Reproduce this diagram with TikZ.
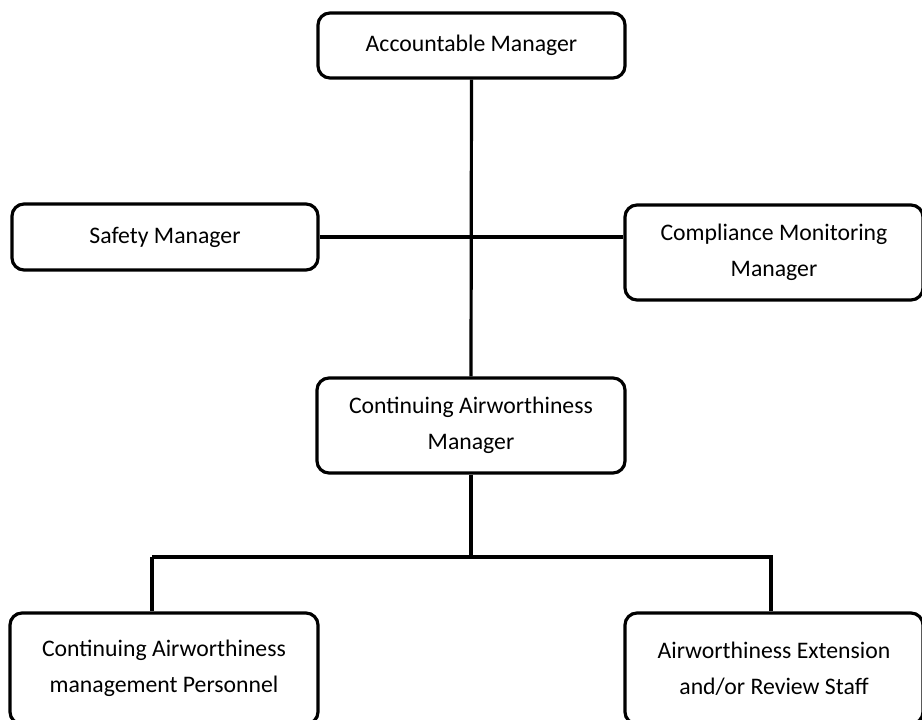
\documentclass[tikz,border=0pt]{standalone}
\usepackage{fontspec}
\setmainfont{Carlito}
\usepackage{tikz}
\usetikzlibrary{calc, positioning}

\tikzset{
    box/.style={draw, line width=2.4pt, rounded corners=9pt, align=center,
        inner sep=0pt, font=\fontsize{17.8}{27}\selectfont},
    link/.style={line width=2.4pt}
}

\begin{document}
\begin{tikzpicture}[x=0.75pt, y=-0.75pt]
        \useasboundingbox (0,0) rectangle (922,720);
        \clip (0,0) rectangle (922,720);
        \node[box, minimum width=230.25pt, minimum height=48.75pt] (acc) at (471.5,45.5) {Accountable Manager};
        \node[box, minimum width=229.5pt, minimum height=49.5pt] (safety) at (165,237) {Safety Manager};
        \node[box, minimum width=223.5pt, minimum height=71.25pt] (comp) at (774,252.5) {Compliance Monitoring\\Manager};
        \node[box, minimum width=231pt, minimum height=71.25pt] (cam) at (471,425.5) {Continuing Airworthiness\\Manager};
        \node[box, minimum width=231pt, minimum height=83.25pt] (camp) at (164,668.5) {Continuing Airworthiness\\management Personnel};
        \node[box, minimum width=223.5pt, minimum height=83.25pt] (aes) at (774,668.5) {Airworthiness Extension\\and/or Review Staff};
        \coordinate (busl) at (152,557);
        \coordinate (busr) at (771,557);
        \draw[link] (acc.south) -- (cam.north);
        \draw[link] (safety.east) -- (safety.east -| comp.west);
        \draw[link] (cam.south) -- (cam.south |- busl);
        \draw[link] (busl) -- ($(busr)+(2,0)$);
        \draw[link] (busl) -- (busl |- camp.north);
        \draw[link] (busr) -- (busr |- aes.north);
    \end{tikzpicture}
\end{document}
